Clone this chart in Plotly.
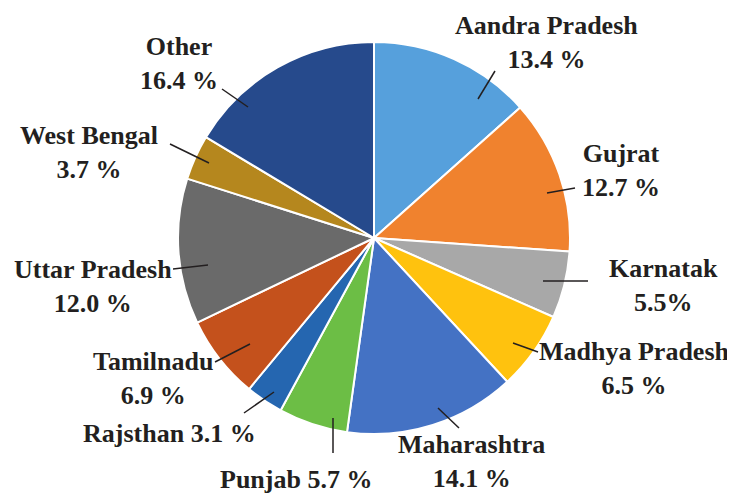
import plotly.graph_objects as go

states = ["Aandra Pradesh", "Gujrat", "Karnatak", "Madhya Pradesh", "Maharashtra",
          "Punjab", "Rajsthan", "Tamilnadu", "Uttar Pradesh", "West Bengal", "Other"]
shares = [13.4, 12.7, 5.5, 6.5, 14.1, 5.7, 3.1, 6.9, 12.0, 3.7, 16.4]
label_texts = ["Aandra Pradesh<br>13.4 %", "Gujrat<br>12.7 %", "Karnatak<br>5.5%",
               "Madhya Pradesh<br>6.5 %", "Maharashtra<br>14.1 %", "Punjab 5.7 %",
               "Rajsthan 3.1 %", "Tamilnadu<br>6.9 %", "Uttar Pradesh<br>12.0 %",
               "West Bengal<br>3.7 %", "Other<br>16.4 %"]
colors = ["#56A0DC", "#F0822E", "#A8A8A8", "#FFC20E", "#4472C4", "#6CBE45",
          "#2566B0", "#C4511C", "#6A6A6A", "#B5871E", "#264A8C"]

W, H = 735, 498
OFF = 8  # page body margin
# label centres (px, window coords) and leader lines (px)
label_pos = [(546, 43), (621, 170), (663, 285), (634, 368), (472, 461), (296, 479),
             (169, 433), (153, 378), (93, 286), (89, 152), (179, 64)]
leaders = [((495, 71), (478, 99)), ((575, 188), (547, 193)), ((543, 281), (588, 281)),
           ((513, 343), (538, 352)), ((438, 408), (459, 428)), ((333, 418), (333, 453)),
           ((274, 392), (244, 413)), ((250, 344), (215, 362)), ((208, 265), (173, 269)),
           ((170, 144), (209, 163)), ((222, 89), (248, 107))]

cx, cy, r = 374, 238, 196


def px2paper(px, py):
    return (px - OFF) / W, 1 - (py - OFF) / H


dx0, dy1 = px2paper(cx - r, cy - r)
dx1, dy0 = px2paper(cx + r, cy + r)

fig = go.Figure(go.Pie(
    labels=states, values=shares, sort=False, direction="clockwise", rotation=0,
    marker=dict(colors=colors, line=dict(color="white", width=2)),
    textinfo="none", hoverinfo="label+percent", showlegend=False,
    domain=dict(x=[dx0, dx1], y=[dy0, dy1]),
))

font = dict(family="Liberation Serif, Times New Roman, serif", size=26, color="#231F20")
for txt, (px, py) in zip(label_texts, label_pos):
    x, y = px2paper(px, py)
    fig.add_annotation(x=x, y=y, xref="paper", yref="paper",
                       text="<b>" + txt.replace("<br>", "</b><br><b>") + "</b>",
                       showarrow=False, font=font, xanchor="center", yanchor="middle",
                       align="center", borderpad=0)
for (x0, y0), (x1, y1) in leaders:
    a0, b0 = px2paper(x0, y0)
    a1, b1 = px2paper(x1, y1)
    fig.add_shape(type="line", xref="paper", yref="paper", x0=a0, y0=b0, x1=a1, y1=b1,
                  line=dict(color="#231F20", width=1.5))

fig.update_layout(width=W, height=H, margin=dict(l=0, r=0, t=0, b=0),
                  paper_bgcolor="white", plot_bgcolor="white")
fig.write_html("out.html")
